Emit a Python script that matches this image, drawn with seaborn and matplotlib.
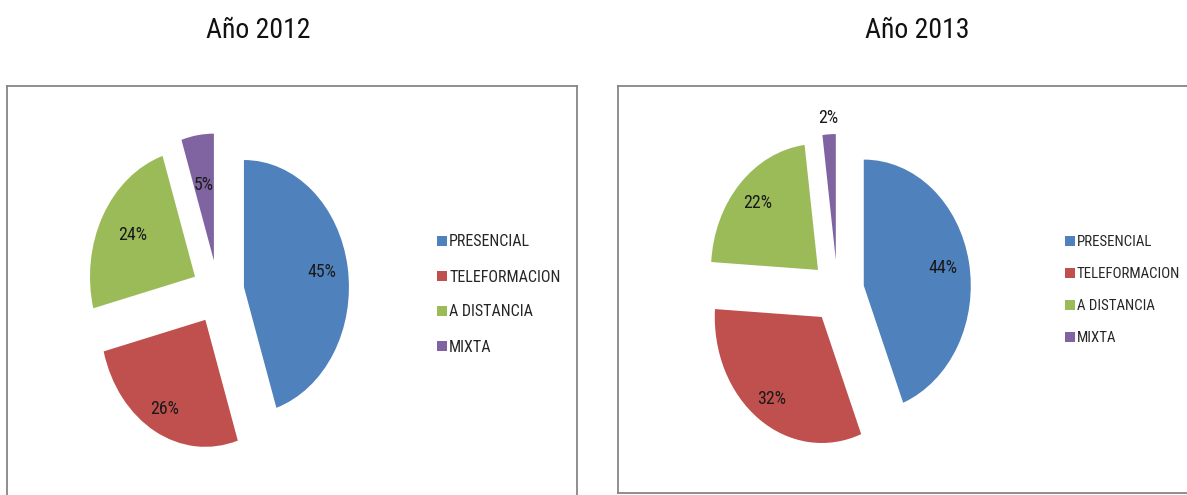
import math
import matplotlib
matplotlib.use("Agg")
import matplotlib.pyplot as plt
import matplotlib.font_manager as fm
from matplotlib.lines import Line2D
import seaborn as sns

# ---- data ----
categories = ["PRESENCIAL", "TELEFORMACION", "A DISTANCIA", "MIXTA"]
values_2012 = [45, 26, 24, 5]
values_2013 = [44, 32, 22, 2]
titles = ["Año 2012", "Año 2013"]
colors = ["#4F81BD", "#C0504D", "#9BBB59", "#8064A2"]

sns.set_theme(style="white")

# pick a narrow font if one is installed
ttf = fm.fontManager.ttflist
names = {f.name for f in ttf}
FAM, STRETCH = "Liberation Sans", "normal"
if "Liberation Sans Narrow" in names:
    FAM, STRETCH = "Liberation Sans Narrow", "normal"
elif "Roboto Condensed" in names:
    FAM, STRETCH = "Roboto Condensed", "normal"
elif any(f.name == "DejaVu Sans" and f.stretch in ("condensed", "semi-condensed") for f in ttf):
    FAM, STRETCH = "DejaVu Sans", "condensed"
plt.rcParams["font.family"] = [FAM, "DejaVu Sans"]
plt.rcParams["font.stretch"] = STRETCH

W, H = 1187, 495
fig = plt.figure(figsize=(W / 100, H / 100), dpi=100)
fig.patch.set_facecolor("white")
renderer = fig.canvas.get_renderer()


def fit_size(s, target_px, base=12.0):
    t = fig.text(0, 0, s, fontsize=base)
    w = t.get_window_extent(renderer).width
    t.remove()
    return base * target_px / w


title_fs = fit_size("Año 2012", 104)
pct_fs = fit_size("45%", 29)

panels = [
    dict(vals=values_2012, title=titles[0], box=(7, 577, 86, 497), c=(218, 292), rx=105, ry=127,
         pd=[0.75, 0.8, 0.68, 0.6], title_x=258, leg_x=449, leg_y=242, pitch=35,
         leg_w=111),
    dict(vals=values_2013, title=titles[1], box=(618, 1190, 86, 493), c=(837.5, 291.5), rx=107, ry=126,
         pd=[0.75, 0.8, 0.78, 1.13], title_x=917, leg_x=1077, leg_y=242, pitch=32,
         leg_w=103),
]

for p in panels:
    x0, x1, yt, yb = p["box"]
    cx, cy = p["c"]
    rx, ry = p["rx"], p["ry"]
    ax = fig.add_axes([x0 / W, (H - yb) / H, (x1 - x0) / W, (yb - yt) / H])
    wedges, _ = ax.pie(p["vals"], colors=colors, startangle=90, counterclock=False,
                       explode=[0.25] * len(p["vals"]), radius=1, center=(0, 0),
                       wedgeprops=dict(linewidth=0), frame=True)
    ax.set_aspect("auto")
    ax.set_xlim((x0 - cx) / rx, (x1 - cx) / rx)
    ax.set_ylim(-(yb - cy) / ry, (cy - yt) / ry)
    ax.set_xticks([])
    ax.set_yticks([])
    for s in ax.spines.values():
        s.set_color("#868686")
        s.set_linewidth(1.3)

    total = sum(p["vals"])
    for w, v, d in zip(wedges, p["vals"], p["pd"]):
        th = math.radians((w.theta1 + w.theta2) / 2)
        wx, wy = w.center
        ax.text(wx + d * w.r * math.cos(th), wy + d * w.r * math.sin(th),
                f"{round(100 * v / total)}%", ha="center", va="center",
                fontsize=pct_fs, color="#1a1a1a")

    # legend, tuned so rows land where the reference has them
    leg_fs = fit_size("TELEFORMACION", p["leg_w"])
    fs_px = leg_fs * 100 / 72
    handles = [Line2D([], [], marker="s", linestyle="none", markersize=7,
                      markerfacecolor=c, markeredgewidth=0) for c in colors]
    ls = 1.0
    ax_x, ax_y = p["leg_x"] - 14, p["leg_y"] - 10
    for _ in range(3):
        leg = ax.legend(handles, categories, loc="upper left",
                        bbox_to_anchor=(ax_x / W, 1 - ax_y / H),
                        bbox_transform=fig.transFigure, frameon=False, fontsize=leg_fs,
                        handlelength=0.7, handletextpad=0.1, labelspacing=ls,
                        borderpad=0, borderaxespad=0)
        fig.canvas.draw()
        bbs = [t.get_window_extent(renderer) for t in leg.get_texts()]
        pitch = (bbs[0].y0 + bbs[0].y1) / 2 - (bbs[1].y0 + bbs[1].y1) / 2
        ls += (p["pitch"] - pitch) / fs_px
        top_c = H - (bbs[0].y0 + bbs[0].y1) / 2
        ax_y += p["leg_y"] - top_c
        ax_x += p["leg_x"] - bbs[0].x0

    fig.text(p["title_x"] / W, 1 - 30 / H, p["title"], ha="center", va="center",
             fontsize=title_fs, color="#111111")

fig.savefig("out.png", dpi=100, facecolor="white")
